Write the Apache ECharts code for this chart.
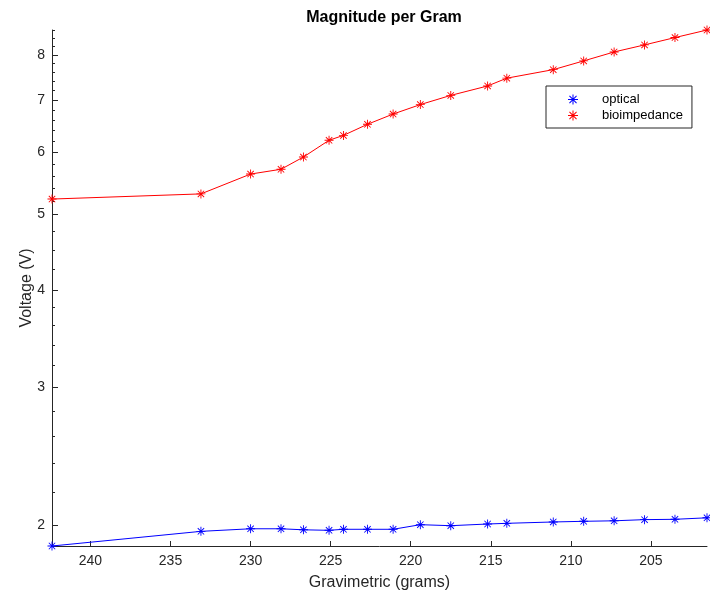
<!DOCTYPE html>
<html>
<head>
<meta charset="utf-8">
<script src="https://cdn.jsdelivr.net/npm/echarts@6/dist/echarts.min.js"></script>
<style>html,body{margin:0;padding:0;background:#fff}#c{width:710px;height:594px}</style>
</head>
<body>
<div id="c"></div>
<script>
// ---- data ----
var grams = [242.4, 233.1, 230.0, 228.1, 226.7, 225.1, 224.2, 222.7, 221.1, 219.4, 217.5, 215.2, 214.0, 211.1, 209.2, 207.3, 205.4, 203.5, 201.5];
var optical = [1.88, 1.963, 1.978, 1.978, 1.972, 1.969, 1.975, 1.975, 1.975, 2.002, 1.996, 2.006, 2.01, 2.018, 2.022, 2.025, 2.032, 2.034, 2.043];
var bioimpedance = [5.23, 5.31, 5.63, 5.71, 5.92, 6.22, 6.31, 6.52, 6.72, 6.91, 7.10, 7.30, 7.47, 7.66, 7.86, 8.07, 8.24, 8.42, 8.61];
var xTicks = [205, 210, 215, 220, 225, 230, 235, 240];
var yTicks = [2, 3, 4, 5, 6, 7, 8];
var yMinorTicks = [2.2, 2.4, 2.6, 2.8, 3.2, 3.4, 3.6, 3.8, 4.25, 4.5, 4.75, 5.2, 5.4, 5.6, 5.8, 6.2, 6.4, 6.6, 6.8, 7.2, 7.4, 7.6, 7.8, 8.2, 8.4, 8.6];
var xRange = [201.5, 242.4];
var yRange = [1.88, 8.61];

var lg = function (v) { return Math.log10(v); };
var star = 'path://M0 45L100 45L100 55L0 55Z M45 0L55 0L55 100L45 100Z M11 18L18 11L89 82L82 89Z M82 11L89 18L18 89L11 82Z';
var axisCol = '#262626';
var font = '"Liberation Sans", Arial, Helvetica, sans-serif';

function pts(ys) { return grams.map(function (g, i) { return [g, lg(ys[i])]; }); }

var chart = echarts.init(document.getElementById('c'));
chart.setOption({
  animation: false,
  backgroundColor: '#fff',
  title: {
    text: 'Magnitude per Gram', left: 379, top: 5, textAlign: 'center',
    textStyle: { fontFamily: font, fontSize: 16, fontWeight: 'bold', color: '#000' }
  },
  grid: { left: 52, right: 3, top: 30, bottom: 48, containLabel: false, outerBoundsMode: 'none' },
  legend: {
    orient: 'vertical', left: 546, top: 86,
    padding: [6, 9, 5, 22], itemGap: 1,
    itemWidth: 10, itemHeight: 10,
    borderColor: axisCol, borderWidth: 1, backgroundColor: '#fff',
    textStyle: { fontFamily: font, fontSize: 13, color: '#000', lineHeight: 15, padding: [0, 0, 0, 19] },
    data: [{ name: 'optical', icon: star }, { name: 'bioimpedance', icon: star }]
  },
  xAxis: {
    type: 'value', inverse: true, min: xRange[0], max: xRange[1],
    name: 'Gravimetric (grams)', nameLocation: 'middle', nameGap: 29, nameMoveOverlap: false,
    nameTextStyle: { fontFamily: font, fontSize: 16, color: axisCol },
    axisLine: { show: true, lineStyle: { color: axisCol, width: 1 } },
    axisTick: { show: true, inside: true, length: 5, customValues: xTicks, lineStyle: { color: axisCol } },
    axisLabel: { customValues: xTicks, margin: 8, fontFamily: font, fontSize: 14, color: axisCol },
    splitLine: { show: false }
  },
  yAxis: [{
    type: 'value', min: lg(yRange[0]), max: lg(yRange[1]),
    name: 'Voltage (V)', nameLocation: 'middle', nameGap: 17, nameMoveOverlap: false,
    nameTextStyle: { fontFamily: font, fontSize: 16, color: axisCol },
    axisLine: { show: true, lineStyle: { color: axisCol, width: 1 } },
    axisTick: { show: true, inside: true, length: 6, customValues: yTicks.map(lg), lineStyle: { color: axisCol } },
    axisLabel: {
      customValues: yTicks.map(lg), margin: 7, fontFamily: font, fontSize: 14, color: axisCol,
      formatter: function (v) { return String(Math.round(Math.pow(10, v))); }
    },
    splitLine: { show: false }
  }, {
    type: 'value', min: lg(yRange[0]), max: lg(yRange[1]), position: 'left', offset: 0,
    axisLine: { show: false },
    axisTick: { show: true, inside: true, length: 3, customValues: yMinorTicks.map(lg), lineStyle: { color: axisCol } },
    axisLabel: { show: false },
    splitLine: { show: false }
  }],
  series: [{
    name: 'optical', type: 'line', data: pts(optical),
    symbol: star, symbolSize: 9, showAllSymbol: true, clip: false,
    itemStyle: { color: '#0000ff' }, lineStyle: { color: '#0000ff', width: 1 }
  }, {
    name: 'bioimpedance', type: 'line', data: pts(bioimpedance),
    symbol: star, symbolSize: 9, showAllSymbol: true, clip: false,
    itemStyle: { color: '#ff0000' }, lineStyle: { color: '#ff0000', width: 1 }
  }]
});
</script>
</body>
</html>
